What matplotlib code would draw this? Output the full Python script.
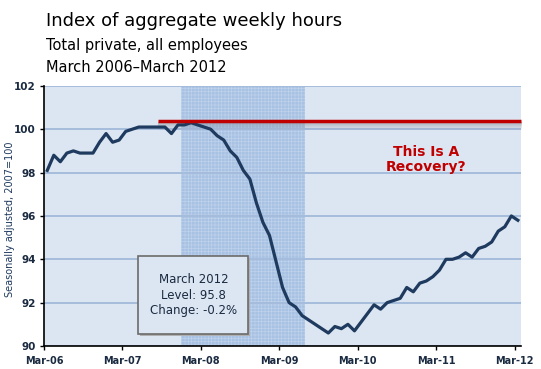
import matplotlib
matplotlib.use("Agg")
import matplotlib.pyplot as plt
import matplotlib.patches as mpatches

# monthly index, Mar 2006 .. Mar 2012
hours = [98.1, 98.8, 98.5, 98.9, 99.0, 98.9, 98.9, 98.9, 99.4, 99.8, 99.4, 99.5,
         99.9, 100.0, 100.1, 100.1, 100.1, 100.1, 100.1, 99.8, 100.2, 100.2, 100.3, 100.2,
         100.1, 100.0, 99.7, 99.5, 99.0, 98.7, 98.1, 97.7, 96.6, 95.7, 95.1, 93.9,
         92.7, 92.0, 91.8, 91.4, 91.2, 91.0, 90.8, 90.6, 90.9, 90.8, 91.0, 90.7,
         91.1, 91.5, 91.9, 91.7, 92.0, 92.1, 92.2, 92.7, 92.5, 92.9, 93.0, 93.2,
         93.5, 94.0, 94.0, 94.1, 94.3, 94.1, 94.5, 94.6, 94.8, 95.3, 95.5, 96.0,
         95.8]
tick_labels = ["Mar-06", "Mar-07", "Mar-08", "Mar-09", "Mar-10", "Mar-11", "Mar-12"]
recession = (21, 40)      # Dec 2007 - Jun 2009 (month index)
peak_level = 100.37
peak_start = 17.4

navy = "#1f3a5f"
plt.rcParams["hatch.linewidth"] = 0.4

fig = plt.figure(figsize=(5.41, 3.69), dpi=100)
ax = fig.add_axes([0.0813, 0.0623, 0.882, 0.705])
ax.set_facecolor("#dce6f2")

x = [i + 0.5 for i in range(len(hours))]

ax.axvspan(recession[0], recession[1], color="#a8c2e3", zorder=0.5, lw=0)
ax.axvspan(recession[0], recession[1], facecolor="none", edgecolor="#c2d4ec",
           hatch="+++++", lw=0, zorder=0.6)

for y in range(90, 103, 2):
    ax.axhline(y, color="#a6bcdc", lw=1.4, zorder=1)

# shadow under the red line
steps = [0.45, 0.40, 0.34, 0.28, 0.22, 0.16, 0.10, 0.05]
for k, a in enumerate(steps):
    y0 = peak_level - 0.04 - 0.045 * k
    ax.fill_between([peak_start, 73.4], y0 - 0.045, y0, color="#7a7f88", alpha=a,
                    lw=0, zorder=2)

ax.plot(x, hours, color=navy, lw=2.3, zorder=3, solid_joinstyle="round")

ax.plot([peak_start, 73.0], [peak_level, peak_level], color="#c00000", lw=2.5,
        zorder=4, solid_capstyle="butt", clip_on=False)

ax.set_xlim(0, 73)
ax.set_ylim(90, 102)
ax.set_xticks(range(0, 73, 12))
ax.set_xticklabels(tick_labels, fontsize=7, fontweight="bold", color="#1a2a40")
ax.set_yticks(range(90, 103, 2))
ax.set_yticklabels([str(v) for v in range(90, 103, 2)], fontsize=7.5,
                   fontweight="bold", color="#1a2a40")
ax.tick_params(axis="both", length=3, width=1, color="black", pad=3)
ax.tick_params(axis="x", pad=4)
for s in ["top", "right"]:
    ax.spines[s].set_visible(False)
for s in ["left", "bottom"]:
    ax.spines[s].set_color("black")
    ax.spines[s].set_linewidth(1.2)

fig.text(0.019, 0.405, "Seasonally adjusted, 2007=100", fontsize=7, color=navy,
         rotation=90, ha="center", va="center")

ax.text(58.5, 98.62, "This Is A\nRecovery?", color="#c00000", fontsize=10,
        fontweight="bold", ha="center", va="center", linespacing=1.1)

box = mpatches.FancyBboxPatch((0.198, 0.045), 0.23, 0.3, boxstyle="square,pad=0",
                              transform=ax.transAxes, facecolor="#dce6f2",
                              edgecolor="#6b6b6b", lw=1.2, zorder=5)
shadow = mpatches.Rectangle((0.201, 0.038), 0.23, 0.3, transform=ax.transAxes,
                            facecolor="#b0b0b0", lw=0, zorder=4.9)
ax.add_patch(shadow)
ax.add_patch(box)
ax.text(0.313, 0.195, "March 2012\nLevel: 95.8\nChange: -0.2%", transform=ax.transAxes,
        ha="center", va="center", fontsize=8.5, color="#1a2a40", zorder=6,
        linespacing=1.25)

fig.text(0.085, 0.93, "Index of aggregate weekly hours", fontsize=13, color="black")
fig.text(0.085, 0.865, "Total private, all employees", fontsize=10.5, color="black")
fig.text(0.085, 0.805, "March 2006\u2013March 2012", fontsize=10.5, color="black")

fig.savefig("out.png", dpi=100)
